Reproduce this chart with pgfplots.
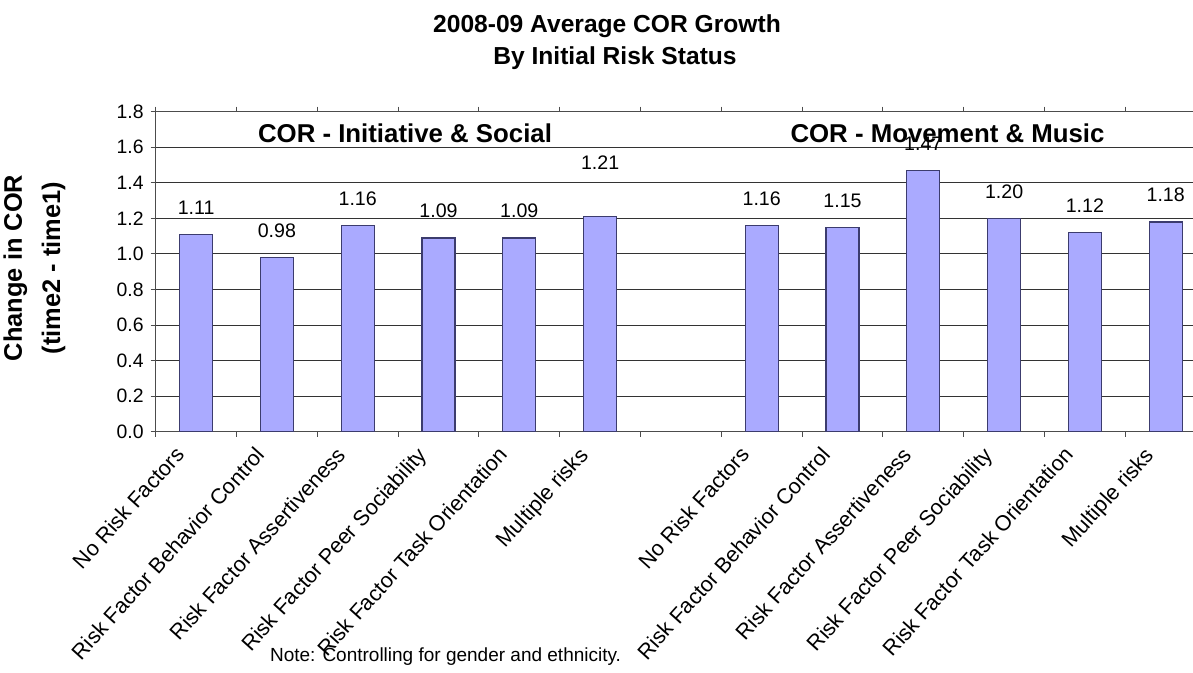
\documentclass[border=0pt]{standalone}
\usepackage{pgfplots}
\pgfplotsset{compat=1.18}
\usepackage{fontspec}
\setmainfont{Liberation Sans}
\definecolor{barfill}{RGB}{170,170,255}
\definecolor{baredge}{RGB}{60,60,110}
\begin{document}
\begin{tikzpicture}
\begin{axis}[
  at={(0,0)}, anchor=south west, scale only axis,
  width=525.2pt, height=160pt,
  xmin=-0.5, xmax=12.5, ymin=0, ymax=1.8,
  ybar, bar width=0.41, bar shift=0pt,
  xtick={0,1,2,3,4,5,7,8,9,10,11,12},
  xticklabels={No Risk Factors,Risk Factor Behavior Control,Risk Factor Assertiveness,Risk Factor Peer Sociability,Risk Factor Task Orientation,Multiple risks,No Risk Factors,Risk Factor Behavior Control,Risk Factor Assertiveness,Risk Factor Peer Sociability,Risk Factor Task Orientation,Multiple risks},
  major x tick style={draw=none},
  minor xtick={-0.5,0.5,1.5,2.5,3.5,4.5,5.5,6.5,7.5,8.5,9.5,10.5,11.5,12.5},
  ytick={0,0.2,0.4,0.6,0.8,1.0,1.2,1.4,1.6,1.8},
  /pgf/number format/.cd, fixed, fixed zerofill, precision=1, assume math mode=true,
  /pgfplots/.cd,
  tick align=outside,
  major tick length=2.5pt, minor tick length=2.5pt,
  tick style={black!70, line width=0.5pt},
  axis line style={black!70, line width=0.5pt},
  ymajorgrids, grid style={black!80, line width=0.5pt},
  yticklabel style={font=\fontsize{9.7}{11}\selectfont},
  xticklabel style={font=\fontsize{10.8}{12}\selectfont, xshift=-3pt, yshift=-7pt, rotate=48, anchor=base east},
  nodes near coords,
  point meta=explicit symbolic,
  nodes near coords style={font=\fontsize{9.8}{11}\selectfont, anchor=base, yshift=10pt, text=black},
]
\addplot[fill=barfill, draw=baredge, line width=0.6pt] coordinates {
  (0,1.11) [1.11]
  (1,0.98) [0.98]
  (2,1.16) [1.16]
  (3,1.09) [1.09]
  (4,1.09) [1.09]
  (7,1.16) [1.16]
  (8,1.15) [1.15]
  (9,1.47) [1.47]
  (10,1.20) [1.20]
  (11,1.12) [1.12]
  (12,1.18) [1.18]
};
\addplot[fill=barfill, draw=baredge, line width=0.6pt, nodes near coords style={yshift=13.5pt}] coordinates {
  (5,1.21) [1.21]
};
\end{axis}
\node[anchor=base, font=\bfseries\fontsize{12.3}{14}\selectfont] at (225.65pt,199.35pt) {2008-09 Average COR Growth};
\node[anchor=base, font=\bfseries\fontsize{12.3}{14}\selectfont] at (229.65pt,183.35pt) {By Initial Risk Status};
\node[anchor=base, font=\bfseries\fontsize{12.9}{15}\selectfont] at (124.65pt,144.35pt) {COR - Initiative \& Social};
\node[anchor=base, font=\bfseries\fontsize{12.9}{15}\selectfont] at (395.9pt,144.35pt) {COR - Movement \& Music};
\node[anchor=base, rotate=90, font=\bfseries\fontsize{12.7}{15}\selectfont] at (-66.85pt,81.85pt) {Change in COR};
\node[anchor=base, rotate=90, font=\bfseries\fontsize{12.7}{15}\selectfont] at (-47.85pt,81.85pt) {(time2 - time1)};
\node[anchor=base west, font=\fontsize{9.5}{11}\selectfont] at (53.65pt,-115.15pt) {Note: Controlling for gender and ethnicity.};
\pgfresetboundingbox
\path[use as bounding box] (-77.85pt,-120.65pt) rectangle (518.65pt,215.85pt);
\end{tikzpicture}
\end{document}
